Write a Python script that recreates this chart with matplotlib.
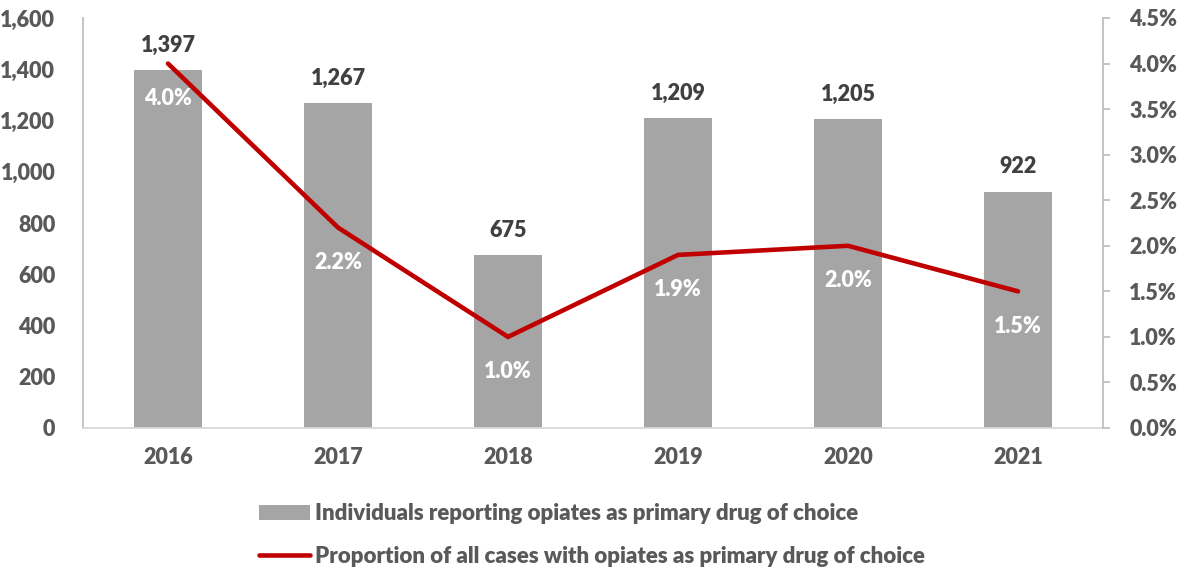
import matplotlib
matplotlib.use("Agg")
import matplotlib.pyplot as plt
from matplotlib.ticker import FuncFormatter, MultipleLocator

years = ["2016", "2017", "2018", "2019", "2020", "2021"]
individuals = [1397, 1267, 675, 1209, 1205, 922]
proportion = [4.0, 2.2, 1.0, 1.9, 2.0, 1.5]
bar_label = "Individuals reporting opiates as primary drug of choice"
line_label = "Proportion of all cases with opiates as primary drug of choice"

W = 800
plt.rcParams['font.family'] = ['Lato', 'DejaVu Sans']
plt.rcParams['font.weight'] = W
TXT = '#595959'
GRID = '#BFBFBF'

fig = plt.figure(figsize=(11.78, 5.72), dpi=100)
ax = fig.add_axes([83/1178, 1 - 428/572, (1103-83)/1178, (428-18)/572])
ax2 = ax.twinx()

x = list(range(len(years)))
bars = ax.bar(x, individuals, width=0.4, color='#A5A5A5', zorder=2, label=bar_label)
ax.set_xlim(-0.5, len(years) - 0.5)
ax.set_ylim(0, 1600)
ax.yaxis.set_major_locator(MultipleLocator(200))
ax.yaxis.set_major_formatter(FuncFormatter(lambda v, p: f"{int(v):,}"))
ax.set_xticks(x)
ax.set_xticklabels(years)
ax.tick_params(axis='y', length=0, labelsize=15.5, labelcolor=TXT, pad=20)
ax.tick_params(axis='x', length=0, labelsize=15.5, labelcolor=TXT, pad=14)
for t in ax.get_xticklabels() + ax.get_yticklabels():
    t.set_fontweight(W)

for s in ['top', 'right']:
    ax.spines[s].set_visible(False)
ax.spines['left'].set_color(GRID)
ax.spines['bottom'].set_color('#D9D9D9')
ax.spines['left'].set_linewidth(1.3)
ax.spines['bottom'].set_linewidth(1.3)

for xi, v in zip(x, individuals):
    ax.annotate(f"{v:,}", (xi, v), xytext=(0, 18), textcoords='offset points',
                ha='center', va='center', fontsize=15.5, fontweight=W, color='#404040')

line, = ax2.plot(x, proportion, color='#C00000', linewidth=3.3, solid_capstyle='round',
                 solid_joinstyle='miter', zorder=3, label=line_label)
ax2.set_ylim(0, 4.5)
ax2.yaxis.set_major_locator(MultipleLocator(0.5))
ax2.yaxis.set_major_formatter(FuncFormatter(lambda v, p: f"{v:.1f}%"))
ax2.tick_params(axis='y', length=5, width=1.3, color=GRID, labelsize=15.5, labelcolor=TXT, pad=14)
for t in ax2.get_yticklabels():
    t.set_fontweight(W)
for s in ['top', 'left', 'bottom']:
    ax2.spines[s].set_visible(False)
ax2.spines['right'].set_color(GRID)
ax2.spines['right'].set_linewidth(1.3)

for xi, v in zip(x, proportion):
    ax2.annotate(f"{v:.1f}%", (xi, v), xytext=(0, -25), textcoords='offset points',
                 ha='center', va='center', fontsize=15.5, fontweight=W, color='white', zorder=4)

leg = fig.legend(handles=[bars, line], labels=[bar_label, line_label],
                 loc='center', bbox_to_anchor=(592/1178, 1 - 535/572), ncol=1,
                 frameon=False, fontsize=16, handlelength=2.3, handletextpad=0.2,
                 labelspacing=0.95)
for t in leg.get_texts():
    t.set_color(TXT)
    t.set_fontweight(W)

fig.savefig("out.png", dpi=100)
